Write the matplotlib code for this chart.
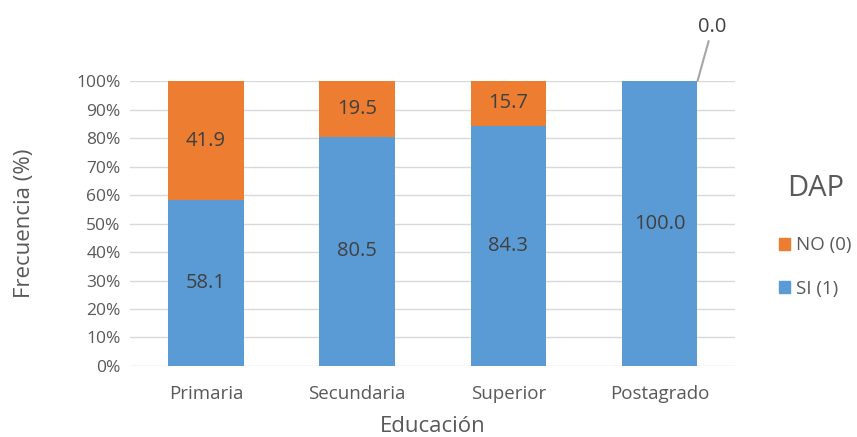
import numpy as np
import matplotlib.pyplot as plt
from matplotlib.ticker import PercentFormatter
from matplotlib.patches import Patch

plt.rcParams['font.family'] = ['Open Sans', 'DejaVu Sans']

# datos
categorias = ['Primaria', 'Secundaria', 'Superior', 'Postagrado']
si = [58.1, 80.5, 84.3, 100.0]
no = [41.9, 19.5, 15.7, 0.0]

azul = '#5B9BD5'
naranja = '#ED7D31'
texto = '#595959'

fig = plt.figure(figsize=(8.57, 4.37), dpi=100)
ax = fig.add_axes([0.152, 0.1625, 0.706, 0.652])

x = np.arange(len(categorias))
ax.bar(x, si, width=0.5, color=azul, zorder=2)
ax.bar(x, no, width=0.5, bottom=si, color=naranja, zorder=2)

# etiquetas de valor
for i in range(len(categorias)):
    ax.text(x[i], si[i] / 2, f'{si[i]:.1f}', ha='center', va='center',
            fontsize=14.5, color='#404040')
    if no[i] > 0:
        ax.text(x[i], si[i] + no[i] / 2, f'{no[i]:.1f}', ha='center', va='center',
                fontsize=14.5, color='#404040')
    else:
        # valor cero con línea guía
        ax.annotate(f'{no[i]:.1f}', xy=(x[i] + 0.25, si[i]), xytext=(x[i] + 0.35, 115.5),
                    ha='center', va='bottom', fontsize=14.5, color='#404040',
                    annotation_clip=False,
                    arrowprops=dict(arrowstyle='-', color='#a6a6a6', lw=1.5,
                                    shrinkA=1, shrinkB=0))

ax.set_xlim(-0.5, 3.5)
ax.set_ylim(0, 100)
ax.set_yticks(np.arange(0, 101, 10))
ax.yaxis.set_major_formatter(PercentFormatter(decimals=0))
ax.set_xticks(x)
ax.set_xticklabels(categorias)
ax.tick_params(axis='both', length=0, labelcolor=texto)
ax.tick_params(axis='x', pad=14, labelsize=13.5)
ax.tick_params(axis='y', pad=7, labelsize=12.5)
ax.grid(axis='y', color='#d9d9d9', lw=1, zorder=0)
for s in ax.spines.values():
    s.set_visible(False)

ax.set_xlabel('Educación', fontsize=16, color=texto, labelpad=9)
ax.set_ylabel('Frecuencia (%)', fontsize=16, color=texto, labelpad=30)

handles = [Patch(color=naranja, label='NO (0)'), Patch(color=azul, label='SI (1)')]
leg = fig.legend(handles=handles, title='DAP', loc='center left',
                 bbox_to_anchor=(0.909, 0.46), frameon=False, fontsize=13.5,
                 title_fontsize=21, handlelength=0.6, handleheight=0.6,
                 handletextpad=0.3, labelspacing=1.35, labelcolor=texto,
                 borderpad=0, borderaxespad=0)
leg.get_title().set_color(texto)
leg._legend_box.sep = 24

fig.savefig('out.png', dpi=100)
